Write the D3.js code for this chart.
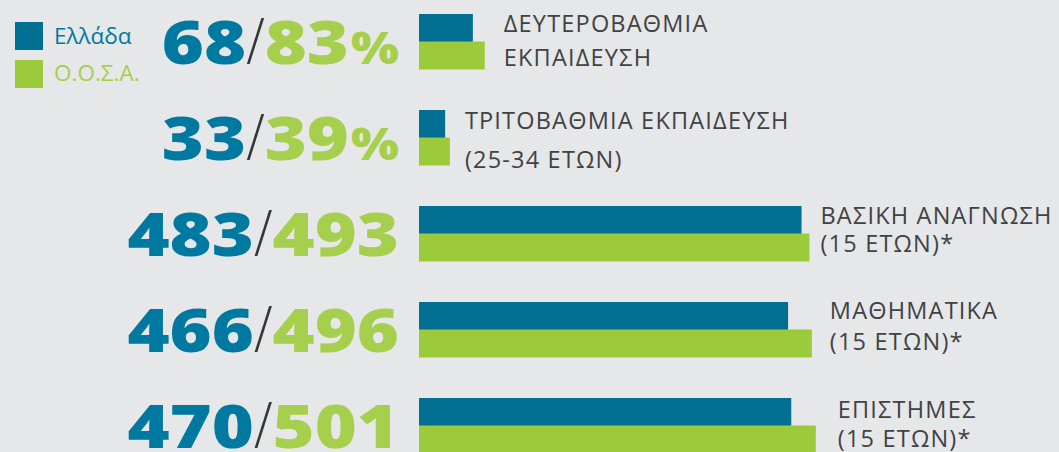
<!DOCTYPE html>
<html>
<head>
<meta charset="utf-8">
<script src="https://cdn.jsdelivr.net/npm/d3@7"></script>
<style>
  body { margin: 0; background: #e6e7e8; }
  svg { display: block; }
</style>
</head>
<body>
<div id="chart"></div>
<script>
// Data
var categories = [
    ["ΔΕΥΤΕΡΟΒΑΘΜΙΑ", "ΕΚΠΑΙΔΕΥΣΗ"],
    ["ΤΡΙΤΟΒΑΘΜΙΑ ΕΚΠΑΙΔΕΥΣΗ", "(25-34 ΕΤΩΝ)"],
    ["ΒΑΣΙΚΗ ΑΝΑΓΝΩΣΗ", "(15 ΕΤΩΝ)*"],
    ["ΜΑΘΗΜΑΤΙΚΑ", "(15 ΕΤΩΝ)*"],
    ["ΕΠΙΣΤΗΜΕΣ", "(15 ΕΤΩΝ)*"]
];
var greece = [68, 33, 483, 466, 470];
var oecd = [83, 39, 493, 496, 501];
var units = ["%", "%", "", "", ""];
var seriesNames = ["Ελλάδα", "Ο.Ο.Σ.Α."];

// Layout (per row tweaks of the label block)
var labelGap = [19, 15, 11, 18, 22];
var line1Dy = [18, 19, 18, 17, 19.5];
var line2Dy = [51.5, 57.5, 46, 48, 48.5];

var colors = { bar: ["#006f91", "#9bcb3b"], text: ["#0079a0", "#a5cf4c"], label: "#414244", slash: "#363636" };

var width = 1059, height = 452;

var svg = d3.select("#chart")
    .append("svg")
    .attr("width", width)
    .attr("height", height);

svg.append("rect")
    .attr("width", width)
    .attr("height", height)
    .attr("fill", "#e6e7e8");

// Scales
var x = d3.scaleLinear().domain([0, 500]).range([419, 419 + 396]);
var y = d3.scaleBand()
    .domain(d3.range(categories.length))
    .range([14, 453])
    .paddingInner(41 / 96)
    .paddingOuter(0);
var ySub = d3.scaleBand().domain([0, 1]).range([0, y.bandwidth()]);

var rows = svg.selectAll(".row")
    .data(categories)
    .enter().append("g")
    .attr("class", "row")
    .attr("transform", function(d, i){ return "translate(0," + y(i) + ")"; });

rows.each(function(d, i){
    var g = d3.select(this);
    var vals = [greece[i], oecd[i]];

    // Bars
    g.selectAll("rect")
        .data(vals)
        .enter().append("rect")
        .attr("x", x(0))
        .attr("y", function(v, j){ return ySub(j); })
        .attr("width", function(v){ return x(v) - x(0); })
        .attr("height", ySub.bandwidth() + 0.5)
        .attr("fill", function(v, j){ return colors.bar[j]; });

    // Category label
    var lx = x(Math.max(greece[i], oecd[i])) + labelGap[i];
    g.selectAll(".lbl")
        .data(d)
        .enter().append("text")
        .attr("class", "lbl")
        .attr("x", lx)
        .attr("y", function(t, k){ return k === 0 ? line1Dy[i] : line2Dy[i]; })
        .attr("font-family", "'Open Sans', sans-serif")
        .attr("font-size", "23.5px")
        .attr("letter-spacing", "1.2px")
        .attr("fill", colors.label)
        .text(function(t){ return t; });

    // Big numbers, laid out right to left from x = 399
    var ng = g.append("g").attr("transform", "translate(399,50)");
    var pos = 0;
    function piece(txt, size, weight, color, sx, gap){
        var t = ng.append("text")
            .attr("text-anchor", "end")
            .attr("transform", "translate(" + pos + ",0) scale(" + sx + ",1)")
            .attr("font-family", "'Open Sans', sans-serif")
            .attr("font-size", size + "px")
            .attr("font-weight", weight)
            .attr("fill", color)
            .text(txt);
        pos -= t.node().getComputedTextLength() * sx + gap;
    }
    if (units[i]) piece(units[i], 44, 800, colors.text[1], 1.15, 2);
    piece(oecd[i], 61, 800, colors.text[1], 1.18, 0);
    piece("/", 64, 300, colors.slash, 0.85, 0);
    piece(greece[i], 61, 800, colors.text[0], 1.18, 0);
});

// Legend
var legend = svg.append("g").attr("class", "legend");
legend.selectAll("rect")
    .data(seriesNames)
    .enter().append("rect")
    .attr("x", 15)
    .attr("y", function(d, i){ return 22 + i * 38; })
    .attr("width", 28)
    .attr("height", 28)
    .attr("fill", function(d, i){ return colors.bar[i]; });
legend.selectAll("text")
    .data(seriesNames)
    .enter().append("text")
    .attr("x", 54)
    .attr("y", function(d, i){ return 44 + i * 37; })
    .attr("font-family", "'Open Sans', sans-serif")
    .attr("font-size", "22.5px")
    .attr("fill", function(d, i){ return colors.text[i]; })
    .text(function(d){ return d; });
</script>
</body>
</html>
